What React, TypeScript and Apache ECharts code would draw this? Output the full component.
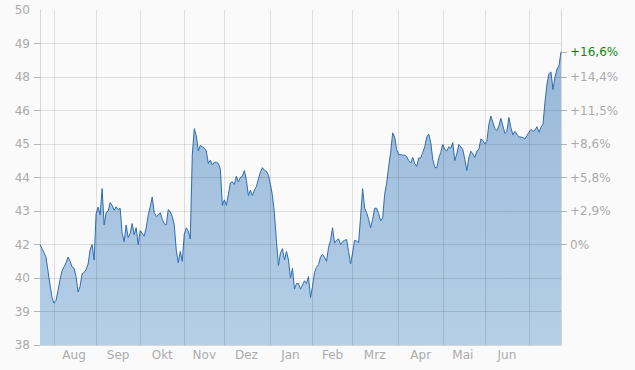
import React, { useEffect, useRef } from "react";
import * as echarts from "echarts";

// Daily closing prices, grouped by month (trading days)
const julPrev = [41.6, 41.45, 41.3, 41.15, 40.65, 40.15, 39.7];
const aug = [39.5, 39.6, 39.95, 40.35, 40.65, 40.8, 40.95, 41.15, 41.0, 40.8, 40.75, 40.45, 39.9, 40.1, 40.55, 40.6, 40.7, 40.9, 41.4, 41.6, 41.05];
const sep = [42.7, 42.94, 42.66, 43.6, 42.3, 42.75, 42.8, 43.1, 43.0, 42.83, 42.95, 42.85, 42.9, 42.0, 41.7, 42.3, 41.85, 42.0, 42.35, 41.95, 42.2, 41.6];
const okt = [42.1, 42.0, 41.9, 42.2, 42.65, 42.95, 43.3, 42.75, 42.6, 42.65, 42.74, 42.5, 42.35, 42.3, 42.85, 42.78, 42.6, 42.3, 41.4, 40.95, 41.35, 41.0];
const nov = [41.96, 42.2, 42.08, 41.8, 44.8, 45.75, 45.5, 44.95, 45.15, 45.1, 45.05, 44.95, 44.5, 44.62, 44.45, 44.55, 44.55, 44.5, 44.3, 43.0];
const dez = [43.2, 43.0, 43.4, 43.8, 43.85, 43.75, 44.05, 43.85, 44.0, 44.05, 44.25, 43.9, 43.35, 43.55, 43.35, 43.55, 43.68, 43.95, 44.2, 44.35, 44.26, 44.22, 44.08];
const jan = [43.75, 43.35, 42.7, 41.7, 40.85, 41.3, 41.45, 41.05, 41.35, 41.05, 40.4, 40.75, 40.0, 40.2, 40.2, 40.0, 40.15, 40.3, 40.2, 40.45, 39.7];
const feb = [40.1, 40.6, 40.78, 40.88, 41.15, 41.24, 41.14, 41.0, 41.5, 41.75, 42.2, 41.65, 41.75, 41.8, 41.6, 41.7, 41.75, 41.78, 41.35, 40.9];
const mrz = [41.3, 41.75, 41.72, 41.66, 42.6, 43.6, 42.9, 42.74, 42.5, 42.2, 42.5, 42.9, 42.9, 42.7, 42.45, 42.55, 43.4, 43.8, 44.4, 44.9, 45.6, 45.45, 45.0];
const apr = [44.82, 44.82, 44.8, 44.8, 44.75, 44.6, 44.52, 44.72, 44.5, 44.4, 44.7, 44.7, 44.9, 45.1, 45.45, 45.55, 45.25, 44.65, 44.37, 44.34, 44.7, 44.9];
const mai = [45.18, 45.0, 44.95, 45.1, 45.05, 45.25, 44.6, 44.85, 45.18, 45.1, 45.0, 44.65, 44.25, 44.7, 44.94, 44.85, 44.72, 44.95, 45.0, 45.38, 45.33];
const jun = [45.2, 45.3, 45.9, 46.2, 45.98, 45.75, 45.68, 45.85, 46.12, 45.85, 45.58, 45.65, 46.15, 45.78, 45.53, 45.65, 45.55, 45.45, 45.45, 45.43, 45.38, 45.5];
const julCur = [45.62, 45.72, 45.65, 45.7, 45.82, 45.62, 45.8, 45.9, 46.7, 47.35, 47.72, 47.78, 47.15, 47.6, 47.88, 48.0, 48.5];

const monthData = [julPrev, aug, sep, okt, nov, dez, jan, feb, mrz, apr, mai, jun, julCur];
const monthNames = ["Jul", "Aug", "Sep", "Okt", "Nov", "Dez", "Jan", "Feb", "Mrz", "Apr", "Mai", "Jun", "Jul"];
const monthLabeled = [false, true, true, true, true, true, true, true, true, true, true, true, false];

const leftTickValues = [38, 39.2, 40.4, 41.6, 42.8, 44, 45.2, 46.4, 47.6, 48.8, 50];
const pctTickValues = [41.6, 42.8, 44, 45.2, 46.4, 47.6];
const pctTickLabels = ["0%", "+2,9%", "+5,8%", "+8,6%", "+11,5%", "+14,4%"];

const FONT = "DejaVu Sans";

export default function App() {
  const ref = useRef<HTMLDivElement>(null);

  useEffect(() => {
    if (!ref.current) return;
    const chart = echarts.init(ref.current, undefined, { renderer: "svg" });

    const categories: string[] = [];
    const values: number[] = [];
    const monthStarts: number[] = [];
    const labelIdx = new Set<number>();
    monthData.forEach((arr, m) => {
      const start = categories.length;
      monthStarts.push(start);
      arr.forEach((v, j) => {
        categories.push(`${monthNames[m]}|${m}|${j}`);
        values.push(v);
      });
      if (monthLabeled[m]) labelIdx.add(start + Math.round((arr.length - 1) / 2));
    });

    const first = values[0];
    const last = values[values.length - 1];
    const lastPct = "+" + ((last / first - 1) * 100).toFixed(1).replace(".", ",") + "%";

    const gridMarks: any[] = [];
    leftTickValues.slice(1, -1).forEach((v) => gridMarks.push({ yAxis: v }));
    monthStarts.slice(1).forEach((i) => gridMarks.push({ xAxis: categories[i] }));

    const labelColor = "#ababab";

    chart.setOption({
      animation: false,
      backgroundColor: "#fafafa",
      grid: { left: 40, right: 74, top: 10, bottom: 25, containLabel: false, outerBoundsMode: "none" },
      xAxis: {
        type: "category",
        data: categories,
        boundaryGap: false,
        axisLine: { show: true, lineStyle: { color: "#d6d6d6", width: 1 } },
        axisTick: { show: false },
        splitLine: { show: false },
        axisLabel: {
          interval: (i: number) => labelIdx.has(i),
          formatter: (v: string) => v.split("|")[0],
          color: labelColor,
          fontFamily: FONT,
          fontSize: 12,
          margin: 4,
        },
      },
      yAxis: [
        {
          type: "value",
          min: 38,
          max: 50,
          position: "left",
          axisLine: { show: true, lineStyle: { color: "#d6d6d6" } },
          axisTick: { show: true, customValues: leftTickValues.slice(0, -1), length: 6, lineStyle: { color: "#b5b5b5" } },
          splitLine: { show: false },
          axisLabel: {
            customValues: leftTickValues,
            formatter: (v: number) => String(Math.round(v)),
            color: labelColor,
            fontFamily: FONT,
            fontSize: 12,
            margin: 10,
          },
        },
        {
          type: "value",
          min: 38,
          max: 50,
          position: "right",
          axisLine: { show: true, lineStyle: { color: "#d6d6d6" } },
          axisTick: { show: true, customValues: [...pctTickValues, last], length: 6, lineStyle: { color: "#b5b5b5" } },
          splitLine: { show: false },
          axisLabel: {
            customValues: [...pctTickValues, last],
            formatter: (v: number) => {
              if (Math.abs(v - last) < 1e-6) return `{g|${lastPct}}`;
              const k = pctTickValues.findIndex((t) => Math.abs(t - v) < 1e-6);
              return k >= 0 ? pctTickLabels[k] : "";
            },
            color: labelColor,
            fontFamily: FONT,
            fontSize: 12,
            margin: 9,
            rich: { g: { color: "#0a8a0a", fontFamily: FONT, fontSize: 12 } },
          },
        },
      ],
      series: [
        {
          type: "line",
          data: values,
          symbol: "none",
          lineStyle: { width: 1, color: "#2f6daf" },
          areaStyle: {
            color: new echarts.graphic.LinearGradient(0, 0, 0, 1, [
              { offset: 0, color: "#98b8d8" },
              { offset: 1, color: "#b5cfe7" },
            ]),
            opacity: 1,
          },
          markLine: {
            silent: true,
            symbol: ["none", "none"],
            label: { show: false },
            lineStyle: { type: "solid", color: "rgba(0,0,0,0.11)", width: 1 },
            emphasis: { disabled: true },
            data: gridMarks,
          },
        },
      ],
    });

    return () => chart.dispose();
  }, []);

  return (
    <div
      ref={ref}
      style={{ position: "fixed", left: 0, top: 0, width: 635, height: 370, background: "#fafafa" }}
    />
  );
}
